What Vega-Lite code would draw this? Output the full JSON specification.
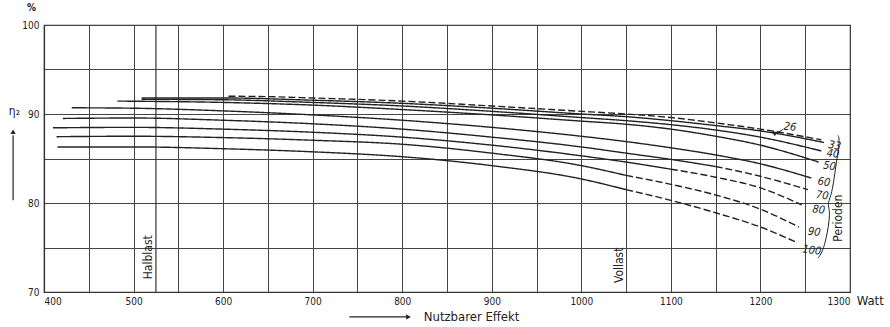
{
  "$schema": "https://vega.github.io/schema/vega-lite/v6.json",
  "width": 806,
  "height": 267,
  "autosize": {"type": "none"},
  "padding": {"left": 44, "top": 25, "right": 40, "bottom": 35},
  "background": "white",
  "config": {
    "font": "DejaVu Sans Condensed, DejaVu Sans, sans-serif",
    "view": {"stroke": "#333", "strokeWidth": 1.2}
  },
  "datasets": {
    "curves": [
      {"p": "26", "seg": "dashed", "W": 606, "v": 92.0},
      {"p": "26", "seg": "dashed", "W": 650, "v": 91.95},
      {"p": "26", "seg": "dashed", "W": 700, "v": 91.8},
      {"p": "26", "seg": "dashed", "W": 800, "v": 91.45},
      {"p": "26", "seg": "dashed", "W": 900, "v": 90.9},
      {"p": "26", "seg": "dashed", "W": 1000, "v": 90.3},
      {"p": "26", "seg": "dashed", "W": 1050, "v": 90.0},
      {"p": "26", "seg": "dashed", "W": 1100, "v": 89.6},
      {"p": "26", "seg": "dashed", "W": 1150, "v": 89.0},
      {"p": "26", "seg": "dashed", "W": 1200, "v": 88.3},
      {"p": "26", "seg": "dashed", "W": 1268, "v": 87.1},

      {"p": "33", "seg": "solid", "W": 509, "v": 91.8},
      {"p": "33", "seg": "solid", "W": 600, "v": 91.8},
      {"p": "33", "seg": "solid", "W": 700, "v": 91.55},
      {"p": "33", "seg": "solid", "W": 800, "v": 91.2},
      {"p": "33", "seg": "solid", "W": 900, "v": 90.65},
      {"p": "33", "seg": "solid", "W": 1000, "v": 90.0},
      {"p": "33", "seg": "solid", "W": 1050, "v": 89.7},
      {"p": "33", "seg": "solid", "W": 1100, "v": 89.25},
      {"p": "33", "seg": "solid", "W": 1150, "v": 88.7},
      {"p": "33", "seg": "solid", "W": 1200, "v": 88.1},
      {"p": "33", "seg": "solid", "W": 1271, "v": 86.8},

      {"p": "40", "seg": "solid", "W": 509, "v": 91.65},
      {"p": "40", "seg": "solid", "W": 600, "v": 91.6},
      {"p": "40", "seg": "solid", "W": 700, "v": 91.3},
      {"p": "40", "seg": "solid", "W": 800, "v": 90.9},
      {"p": "40", "seg": "solid", "W": 900, "v": 90.3},
      {"p": "40", "seg": "solid", "W": 1000, "v": 89.6},
      {"p": "40", "seg": "solid", "W": 1050, "v": 89.25},
      {"p": "40", "seg": "solid", "W": 1100, "v": 88.8},
      {"p": "40", "seg": "solid", "W": 1150, "v": 88.2},
      {"p": "40", "seg": "solid", "W": 1200, "v": 87.4},
      {"p": "40", "seg": "solid", "W": 1268, "v": 85.85},

      {"p": "50", "seg": "solid", "W": 482, "v": 91.45},
      {"p": "50", "seg": "solid", "W": 600, "v": 91.3},
      {"p": "50", "seg": "solid", "W": 700, "v": 91.0},
      {"p": "50", "seg": "solid", "W": 800, "v": 90.5},
      {"p": "50", "seg": "solid", "W": 900, "v": 89.9},
      {"p": "50", "seg": "solid", "W": 1000, "v": 89.2},
      {"p": "50", "seg": "solid", "W": 1050, "v": 88.85},
      {"p": "50", "seg": "solid", "W": 1100, "v": 88.3},
      {"p": "50", "seg": "solid", "W": 1150, "v": 87.5},
      {"p": "50", "seg": "solid", "W": 1200, "v": 86.5},
      {"p": "50", "seg": "solid", "W": 1265, "v": 84.6},

      {"p": "60", "seg": "solid", "W": 431, "v": 90.7},
      {"p": "60", "seg": "solid", "W": 500, "v": 90.65},
      {"p": "60", "seg": "solid", "W": 600, "v": 90.35},
      {"p": "60", "seg": "solid", "W": 700, "v": 89.9},
      {"p": "60", "seg": "solid", "W": 800, "v": 89.3},
      {"p": "60", "seg": "solid", "W": 900, "v": 88.5},
      {"p": "60", "seg": "solid", "W": 1000, "v": 87.5},
      {"p": "60", "seg": "solid", "W": 1050, "v": 86.9},
      {"p": "60", "seg": "solid", "W": 1100, "v": 86.2},
      {"p": "60", "seg": "solid", "W": 1150, "v": 85.4},
      {"p": "60", "seg": "solid", "W": 1200, "v": 84.4},
      {"p": "60", "seg": "solid", "W": 1257, "v": 82.8},

      {"p": "70", "seg": "solid", "W": 421, "v": 89.5},
      {"p": "70", "seg": "solid", "W": 500, "v": 89.55},
      {"p": "70", "seg": "solid", "W": 600, "v": 89.3},
      {"p": "70", "seg": "solid", "W": 700, "v": 88.9},
      {"p": "70", "seg": "solid", "W": 800, "v": 88.3},
      {"p": "70", "seg": "solid", "W": 900, "v": 87.4},
      {"p": "70", "seg": "solid", "W": 1000, "v": 86.3},
      {"p": "70", "seg": "solid", "W": 1050, "v": 85.6},
      {"p": "70", "seg": "solid", "W": 1100, "v": 84.9},
      {"p": "70", "seg": "solid", "W": 1150, "v": 84.1},
      {"p": "70", "seg": "dashed", "W": 1150, "v": 84.1},
      {"p": "70", "seg": "dashed", "W": 1200, "v": 83.0},
      {"p": "70", "seg": "dashed", "W": 1253, "v": 81.5},

      {"p": "80", "seg": "solid", "W": 410, "v": 88.45},
      {"p": "80", "seg": "solid", "W": 500, "v": 88.5},
      {"p": "80", "seg": "solid", "W": 600, "v": 88.3},
      {"p": "80", "seg": "solid", "W": 700, "v": 87.95},
      {"p": "80", "seg": "solid", "W": 800, "v": 87.4},
      {"p": "80", "seg": "solid", "W": 900, "v": 86.5},
      {"p": "80", "seg": "solid", "W": 1000, "v": 85.3},
      {"p": "80", "seg": "solid", "W": 1050, "v": 84.6},
      {"p": "80", "seg": "solid", "W": 1100, "v": 83.8},
      {"p": "80", "seg": "dashed", "W": 1100, "v": 83.8},
      {"p": "80", "seg": "dashed", "W": 1150, "v": 82.9},
      {"p": "80", "seg": "dashed", "W": 1200, "v": 81.7},
      {"p": "80", "seg": "dashed", "W": 1246, "v": 79.8},

      {"p": "90", "seg": "solid", "W": 414, "v": 87.45},
      {"p": "90", "seg": "solid", "W": 500, "v": 87.5},
      {"p": "90", "seg": "solid", "W": 600, "v": 87.35},
      {"p": "90", "seg": "solid", "W": 700, "v": 87.05},
      {"p": "90", "seg": "solid", "W": 800, "v": 86.6},
      {"p": "90", "seg": "solid", "W": 900, "v": 85.6},
      {"p": "90", "seg": "solid", "W": 1000, "v": 84.2},
      {"p": "90", "seg": "solid", "W": 1050, "v": 83.1},
      {"p": "90", "seg": "dashed", "W": 1050, "v": 83.1},
      {"p": "90", "seg": "dashed", "W": 1100, "v": 82.1},
      {"p": "90", "seg": "dashed", "W": 1150, "v": 80.9},
      {"p": "90", "seg": "dashed", "W": 1200, "v": 79.3},
      {"p": "90", "seg": "dashed", "W": 1243, "v": 77.3},

      {"p": "100", "seg": "solid", "W": 415, "v": 86.3},
      {"p": "100", "seg": "solid", "W": 500, "v": 86.3},
      {"p": "100", "seg": "solid", "W": 600, "v": 86.1},
      {"p": "100", "seg": "solid", "W": 700, "v": 85.75},
      {"p": "100", "seg": "solid", "W": 800, "v": 85.2},
      {"p": "100", "seg": "solid", "W": 900, "v": 84.2},
      {"p": "100", "seg": "solid", "W": 1000, "v": 82.7},
      {"p": "100", "seg": "solid", "W": 1050, "v": 81.5},
      {"p": "100", "seg": "dashed", "W": 1050, "v": 81.5},
      {"p": "100", "seg": "dashed", "W": 1100, "v": 80.3},
      {"p": "100", "seg": "dashed", "W": 1150, "v": 78.9},
      {"p": "100", "seg": "dashed", "W": 1200, "v": 77.3},
      {"p": "100", "seg": "dashed", "W": 1240, "v": 75.6}
    ],
    "curveLabels": [
      {"t": "26", "W": 1226, "v": 88.6},
      {"t": "33", "W": 1276, "v": 86.5},
      {"t": "40", "W": 1274, "v": 85.6},
      {"t": "50", "W": 1270, "v": 84.2},
      {"t": "60", "W": 1264, "v": 82.4},
      {"t": "70", "W": 1262, "v": 80.9},
      {"t": "80", "W": 1258, "v": 79.3},
      {"t": "90", "W": 1253, "v": 76.8},
      {"t": "100", "W": 1247, "v": 74.8}
    ],
    "brace": [
      {"i": 1, "W": 1286.6, "v": 87.6},
      {"i": 2, "W": 1288.8, "v": 87.1},
      {"i": 3, "W": 1284.3, "v": 84.3},
      {"i": 4, "W": 1279.8, "v": 80.9},
      {"i": 5, "W": 1274.2, "v": 79.9},
      {"i": 6, "W": 1278.7, "v": 79.0},
      {"i": 7, "W": 1273.2, "v": 75.8},
      {"i": 8, "W": 1268.7, "v": 74.4},
      {"i": 9, "W": 1264.2, "v": 73.8}
    ]
  },
  "encoding": {
    "x": {"field": "W", "type": "quantitative", "scale": {"domain": [400, 1300], "nice": false, "zero": false},
      "axis": {
        "values": [400, 450, 500, 550, 600, 650, 700, 750, 800, 850, 900, 950, 1000, 1050, 1100, 1150, 1200, 1250, 1300],
        "labelExpr": "datum.value % 100 === 0 ? datum.label : ''",
        "format": "d", "grid": true, "gridColor": "#444", "gridWidth": 1, "gridOpacity": 1,
        "ticks": false, "domain": true, "domainColor": "#333", "domainWidth": 1.2,
        "title": null, "labelFontSize": 10, "labelPadding": 4, "labelColor": "#222"
      }
    },
    "y": {"field": "v", "type": "quantitative", "scale": {"domain": [70, 100], "nice": false, "zero": false},
      "axis": {
        "values": [70, 75, 80, 85, 90, 95, 100],
        "labelExpr": "datum.value % 10 === 0 ? datum.label : ''",
        "grid": true, "gridColor": "#444", "gridWidth": 1, "gridOpacity": 1,
        "ticks": false, "domain": true, "domainColor": "#333", "domainWidth": 1.2,
        "title": null, "labelFontSize": 10, "labelPadding": 5, "labelColor": "#222"
      }
    }
  },
  "layer": [
    {
      "data": {"values": [{"W": 525, "v": 70, "v2": 100}]},
      "mark": {"type": "rule", "color": "#333", "strokeWidth": 1.2},
      "encoding": {"y2": {"field": "v2"}}
    },
    {
      "data": {"name": "curves"},
      "mark": {"type": "line", "color": "#222", "strokeWidth": 1.4, "interpolate": "monotone"},
      "encoding": {
        "detail": {"field": "p"},
        "strokeDash": {"field": "seg", "type": "nominal", "scale": {"domain": ["solid", "dashed"], "range": [[1, 0], [7, 3]]}, "legend": null}
      }
    },
    {
      "data": {"name": "curveLabels"},
      "mark": {"type": "text", "align": "left", "baseline": "middle", "fontSize": 11, "fontStyle": "italic", "color": "#222", "angle": 8},
      "encoding": {"text": {"field": "t"}}
    },
    {
      "data": {"values": [{"W": 1225, "v": 88.25}, {"W": 1217, "v": 87.8}]},
      "mark": {"type": "line", "color": "#222", "strokeWidth": 1},
      "encoding": {}
    },
    {
      "data": {"name": "brace"},
      "mark": {"type": "line", "color": "#222", "strokeWidth": 1, "interpolate": "basis"},
      "encoding": {"order": {"field": "i", "type": "quantitative"}}
    },
    {
      "data": {"values": [{"t": "Perioden", "W": 1287, "v": 78.3}, {"t": "Halblast", "W": 516, "v": 73.9}, {"t": "Vollast", "W": 1042, "v": 73.0}]},
      "mark": {"type": "text", "align": "center", "baseline": "middle", "fontSize": 12, "angle": 270, "color": "#222"},
      "encoding": {"text": {"field": "t"}}
    },
    {
      "data": {"values": [{"t": "Nutzbarer Effekt", "W": 824, "v": 67.2}, {"t": "Watt", "W": 1307.5, "v": 69.0}]},
      "mark": {"type": "text", "align": "left", "baseline": "middle", "fontSize": 13, "color": "#222"},
      "encoding": {"text": {"field": "t"}}
    },
    {
      "data": {"values": [{"t": "η₂", "W": 367, "v": 90.3}]},
      "mark": {"type": "text", "align": "center", "baseline": "middle", "fontSize": 12, "color": "#222"},
      "encoding": {"text": {"field": "t"}}
    },
    {
      "data": {"values": [{"t": "%", "W": 386, "v": 101.9}]},
      "mark": {"type": "text", "align": "center", "baseline": "middle", "fontSize": 10, "fontWeight": "bold", "color": "#222"},
      "encoding": {"text": {"field": "t"}}
    },
    {
      "data": {"values": [{"a": "x", "W": 741, "v": 67.2}, {"a": "x", "W": 806, "v": 67.2}, {"a": "y", "W": 365.5, "v": 80.3}, {"a": "y", "W": 365.5, "v": 87.6}]},
      "mark": {"type": "line", "color": "#222", "strokeWidth": 1.2},
      "encoding": {"detail": {"field": "a"}}
    },
    {
      "data": {"values": [{"W": 807, "v": 67.2, "s": "triangle-right"}, {"W": 365.5, "v": 88.0, "s": "triangle-up"}, {"W": 1216, "v": 87.75, "s": "triangle-down"}]},
      "mark": {"type": "point", "filled": true, "color": "#222", "size": 28, "opacity": 1},
      "encoding": {"shape": {"field": "s", "type": "nominal", "scale": null}}
    }
  ]
}
